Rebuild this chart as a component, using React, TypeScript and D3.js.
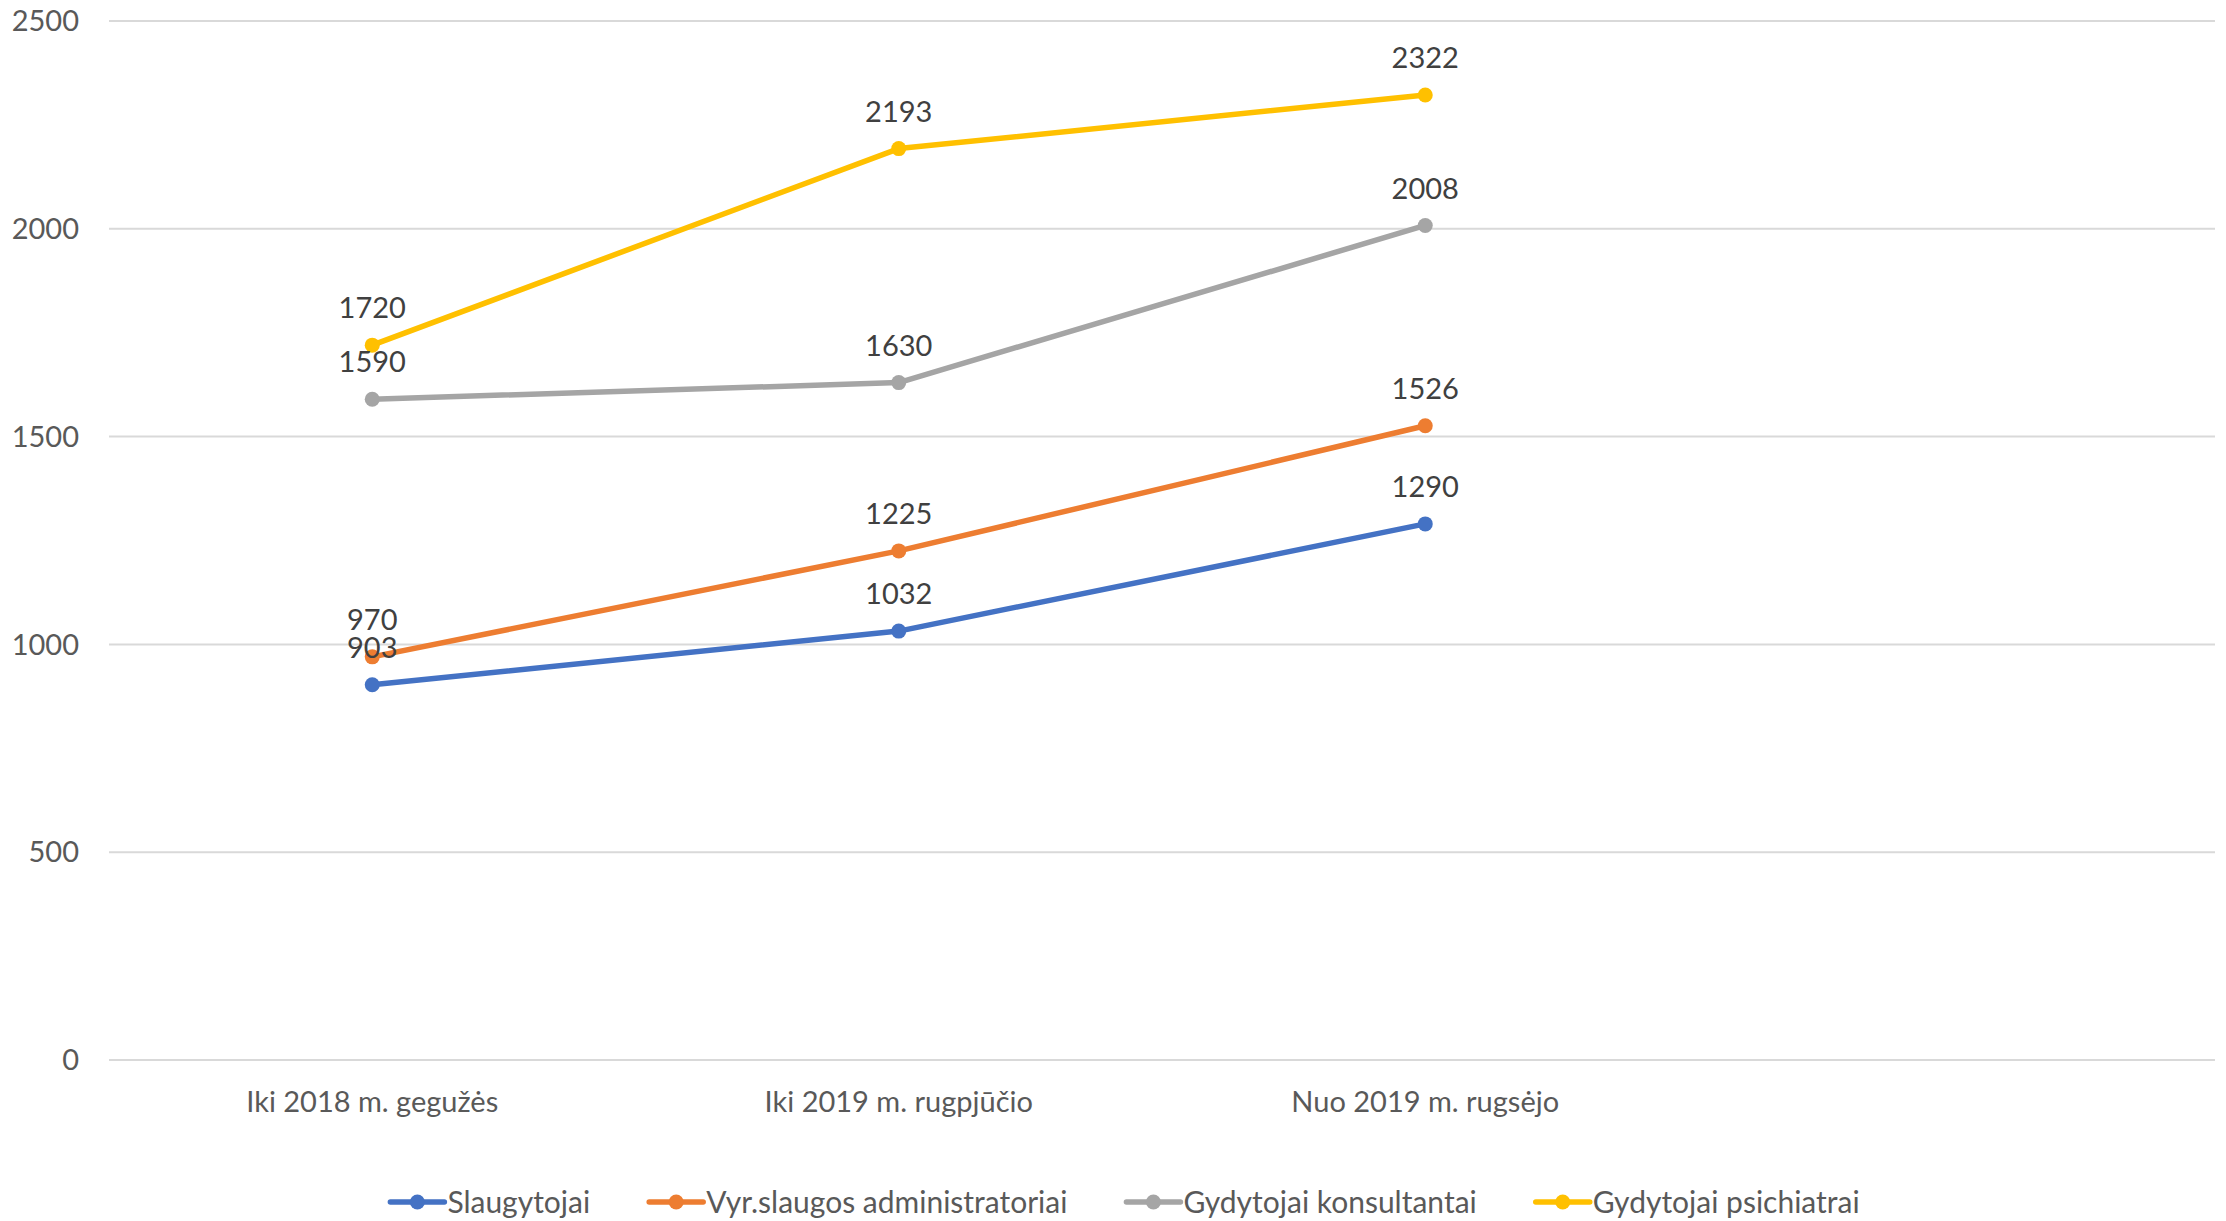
import React, { useEffect, useRef } from 'react';
import * as d3 from 'd3';

// categories (4th slot is empty in the original chart)
const categories = ['Iki 2018 m. gegužės', 'Iki 2019 m. rugpjūčio', 'Nuo 2019 m. rugsėjo', ''];
const seriesNames = ['Slaugytojai', 'Vyr.slaugos administratoriai', 'Gydytojai konsultantai', 'Gydytojai psichiatrai'];
const slaugytojai = [903, 1032, 1290];
const vyrSlaugos = [970, 1225, 1526];
const konsultantai = [1590, 1630, 2008];
const psichiatrai = [1720, 2193, 2322];
const yTicks = [0, 500, 1000, 1500, 2000, 2500];
const colors = ['#4472C4', '#ED7D31', '#A5A5A5', '#FFC000'];

const App = () => {
  const svgRef = useRef<SVGSVGElement>(null);

  useEffect(() => {
    const width = 2226;
    const height = 1221;
    const margin = { top: 21, right: 11, bottom: 161, left: 109 };
    const font = 'Lato, "Open Sans", sans-serif';
    const fs = 29;

    const svg = d3.select(svgRef.current).attr('width', width).attr('height', height);
    svg.selectAll('*').remove();

    const x = d3.scaleBand().domain(categories.map((c, i) => String(i)))
      .range([margin.left, width - margin.right]);
    const y = d3.scaleLinear().domain([0, 2500]).range([height - margin.bottom, margin.top]);

    // gridlines
    svg.append('g').selectAll('line').data(yTicks).enter().append('line')
      .attr('x1', margin.left).attr('x2', width - margin.right)
      .attr('y1', (d) => y(d)).attr('y2', (d) => y(d))
      .attr('stroke', '#D9D9D9').attr('stroke-width', 2);

    // y tick labels
    svg.append('g').selectAll('text').data(yTicks).enter().append('text')
      .attr('x', 79).attr('y', (d) => y(d)).attr('dy', '0.35em')
      .attr('text-anchor', 'end').attr('font-family', font).attr('font-size', fs)
      .attr('fill', '#595959').text((d) => d);

    // category labels
    svg.append('g').selectAll('text').data(categories).enter().append('text')
      .attr('x', (d, i) => x(String(i))! + x.bandwidth() / 2)
      .attr('y', y(0) + 42).attr('dy', '0.35em')
      .attr('text-anchor', 'middle').attr('font-family', font).attr('font-size', fs)
      .attr('fill', '#595959').text((d) => d);

    const series = [slaugytojai, vyrSlaugos, konsultantai, psichiatrai];
    const cx = (i: number) => x(String(i))! + x.bandwidth() / 2;
    const line = d3.line<number>().x((d, i) => cx(i)).y((d) => y(d));

    series.forEach((vals, s) => {
      const g = svg.append('g');
      g.append('path').datum(vals).attr('d', line)
        .attr('fill', 'none').attr('stroke', colors[s]).attr('stroke-width', 5.5)
        .attr('stroke-linejoin', 'round').attr('stroke-linecap', 'round');
      g.selectAll('circle').data(vals).enter().append('circle')
        .attr('cx', (d, i) => cx(i)).attr('cy', (d) => y(d)).attr('r', 7.5)
        .attr('fill', colors[s]);
    });

    // data labels drawn on top
    series.forEach((vals) => {
      svg.append('g').selectAll('text').data(vals).enter().append('text')
        .attr('x', (d, i) => cx(i)).attr('y', (d) => y(d) - 37).attr('dy', '0.35em')
        .attr('text-anchor', 'middle').attr('font-family', font).attr('font-size', fs)
        .attr('fill', '#404040').text((d) => d);
    });

    // legend
    const legend = svg.append('g');
    const items = legend.selectAll('g').data(seriesNames).enter().append('g');
    items.append('line').attr('x1', 0).attr('x2', 54).attr('y1', 0).attr('y2', 0)
      .attr('stroke', (d, i) => colors[i]).attr('stroke-width', 5.5).attr('stroke-linecap', 'round');
    items.append('circle').attr('cx', 27).attr('cy', 0).attr('r', 7.5).attr('fill', (d, i) => colors[i]);
    items.append('text').attr('x', 57).attr('y', 0).attr('dy', '0.35em')
      .attr('font-family', font).attr('font-size', 30).attr('fill', '#595959').text((d) => d);

    const widths: number[] = [];
    items.each(function () {
      const t = d3.select(this).select('text').node() as SVGTextElement;
      widths.push(57 + t.getComputedTextLength());
    });
    const gap = 59;
    const total = d3.sum(widths) + gap * (widths.length - 1);
    let pos = 1125 - total / 2;
    items.attr('transform', (d, i) => {
      const tx = pos;
      pos += widths[i] + gap;
      return `translate(${tx},${y(0) + 142})`;
    });
  }, []);

  return (
    <div>
      <svg ref={svgRef} style={{ position: 'absolute', left: 0, top: 0 }}></svg>
    </div>
  );
};

export default App;
